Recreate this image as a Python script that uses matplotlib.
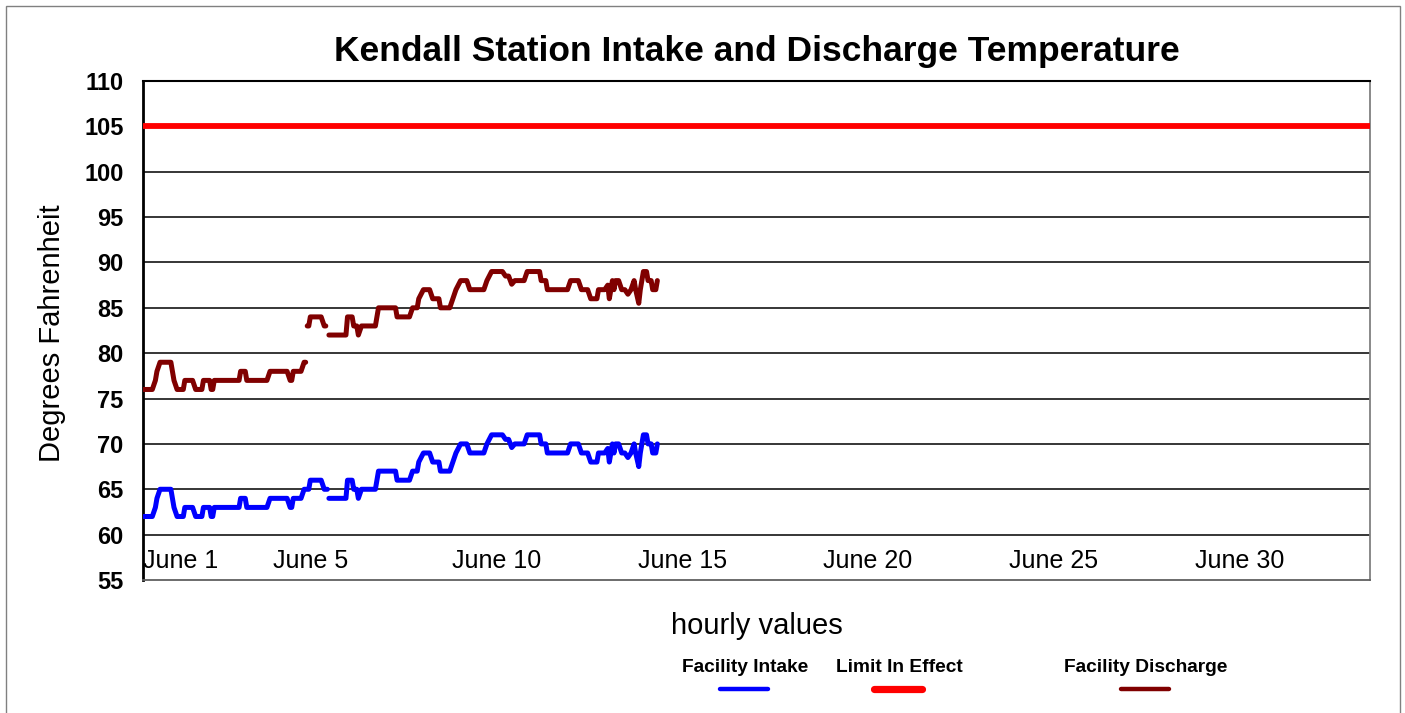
import numpy as np
import matplotlib
matplotlib.use('Agg')
import matplotlib.pyplot as plt
from matplotlib.lines import Line2D
from matplotlib.patches import Rectangle

plt.rcParams['font.family'] = ['Liberation Sans', 'DejaVu Sans']

# hours since June 1 00:00, readings in deg F (nan = gap in record)
intake_hours = [0, 6, 8, 9, 11, 18, 20, 22, 26, 27, 32, 34, 38, 39, 43, 44, 45, 46, 62, 63, 66, 67,
                80, 82, 93, 95, 96, 97, 102, 104, 107, 108, 115, 117, 119,
                119.5,
                120, 131, 132, 135, 136, 138, 139, 141, 150, 152, 163, 164, 172, 174, 177, 178, 181,
                185, 187, 191, 192, 198, 200, 202, 205, 209, 211, 220, 222, 225, 232, 234, 236, 238,
                240, 246, 248, 256, 257, 260, 261, 274, 276, 281, 283, 287, 289, 293, 294, 298, 300,
                301, 303, 304, 305, 307, 309, 311, 313, 315, 317, 318, 320, 321, 323, 325, 326, 328,
                329, 331, 332]
intake_temp = [62, 62, 63, 64, 65, 65, 63, 62, 62, 63, 63, 62, 62, 63, 63, 62, 62, 63, 63, 64, 64, 63,
               63, 64, 64, 63, 63, 64, 64, 65, 65, 66, 66, 65, 65,
               np.nan,
               64, 64, 66, 66, 65, 65, 64, 65, 65, 67, 67, 66, 66, 67, 67, 68, 69,
               69, 68, 68, 67, 67, 68, 69, 70, 70, 69, 69, 70, 71, 71, 70.5, 70.5, 69.6,
               70, 70, 71, 71, 70, 70, 69, 69, 70, 70, 69, 69, 68, 68, 69, 69, 69.5,
               68, 70, 69, 70, 70, 69, 69, 68.5, 69, 70, 69, 67.5, 69, 71, 71, 70, 70,
               69, 69, 70]

discharge_hours = [0, 6, 8, 9, 11, 18, 20, 22, 26, 27, 32, 34, 38, 39, 43, 44, 45, 46, 62, 63, 66, 67,
                   80, 82, 93, 95, 96, 97, 102, 104, 105,
                   105.5,
                   106, 107, 108, 115, 117, 118,
                   119,
                   120, 131, 132, 135, 136, 138, 139, 141, 150, 152, 163, 164, 172, 174, 177, 178, 181,
                   185, 187, 191, 192, 198, 200, 202, 205, 209, 211, 220, 222, 225, 232, 234, 236, 238,
                   240, 246, 248, 256, 257, 260, 261, 274, 276, 281, 283, 287, 289, 293, 294, 298, 300,
                   301, 303, 304, 305, 307, 309, 311, 313, 315, 317, 318, 320, 321, 323, 325, 326, 328,
                   329, 331, 332]
discharge_temp = [76, 76, 77, 78, 79, 79, 77, 76, 76, 77, 77, 76, 76, 77, 77, 76, 76, 77, 77, 78, 78, 77,
                  77, 78, 78, 77, 77, 78, 78, 79, 79,
                  np.nan,
                  83, 83, 84, 84, 83, 83,
                  np.nan,
                  82, 82, 84, 84, 83, 83, 82, 83, 83, 85, 85, 84, 84, 85, 85, 86, 87,
                  87, 86, 86, 85, 85, 86, 87, 88, 88, 87, 87, 88, 89, 89, 88.5, 88.5, 87.6,
                  88, 88, 89, 89, 88, 88, 87, 87, 88, 88, 87, 87, 86, 86, 87, 87, 87.5,
                  86, 88, 87, 88, 88, 87, 87, 86.5, 87, 88, 87, 85.5, 87, 89, 89, 88, 88,
                  87, 87, 88]

limit_value = 105
day_labels = [1, 5, 10, 15, 20, 25, 30]
y_ticks = [55, 60, 65, 70, 75, 80, 85, 90, 95, 100, 105, 110]

fig = plt.figure(figsize=(14.05, 7.13), dpi=100)
fig.patch.set_facecolor('white')
fig.patches.append(Rectangle((6 / 1405, -0.1), 1394 / 1405, 1.1 - 6 / 713, transform=fig.transFigure,
                             fill=False, edgecolor='#808080', linewidth=1))

ax = fig.add_axes([143 / 1405, 1 - 580 / 713, 1227 / 1405, 499 / 713])
ax.set_xlim(0, 792)
ax.set_ylim(55, 110)

for v in y_ticks[1:-1]:
    ax.axhline(v, color='black', linewidth=1.1, zorder=1)

ax.axhline(limit_value, color='#ff0000', linewidth=4.2, zorder=3)
ax.plot(intake_hours, intake_temp, color='#0000ff', linewidth=3.6,
        solid_joinstyle='round', solid_capstyle='round', zorder=4)
ax.plot(discharge_hours, discharge_temp, color='#800000', linewidth=3.6,
        solid_joinstyle='round', solid_capstyle='round', zorder=4)

ax.set_yticks(y_ticks)
ax.set_yticklabels([str(v) for v in y_ticks], fontsize=17, fontweight='bold')
ax.tick_params(axis='y', length=0, pad=14)
ax.set_xticks([])

for d in day_labels:
    if d == 1:
        ax.text(0, 57.1, 'June %d' % d, ha='left', va='center', fontsize=18)
    else:
        ax.text((d - 1) * 24 + 12, 57.1, 'June %d' % d, ha='center', va='center', fontsize=18)

ax.spines['left'].set_linewidth(2)
ax.spines['left'].set_color('black')
ax.spines['top'].set_linewidth(1.5)
ax.spines['top'].set_color('black')
ax.spines['bottom'].set_color('#606060')
ax.spines['bottom'].set_linewidth(1.3)
ax.spines['right'].set_color('#808080')
ax.spines['right'].set_linewidth(1.3)

fig.text(757 / 1405, 1 - 52 / 713, 'Kendall Station Intake and Discharge Temperature',
         ha='center', va='center', fontsize=25.5, fontweight='bold')
fig.text(52 / 1405, 1 - 333 / 713, 'Degrees Fahrenheit', rotation=90,
         ha='center', va='center', fontsize=21)
fig.text(757 / 1405, 1 - 626 / 713, 'hourly values', ha='center', va='center', fontsize=21)

# legend laid out by hand like the original
legend_items = [('Facility Intake', 745, 720, 768, '#0000ff', 3.2),
                ('Limit In Effect', 899, 874, 922, '#ff0000', 5.2),
                ('Facility Discharge', 1146, 1121, 1169, '#800000', 3.2)]
for label, cx, x0, x1, color, lw in legend_items:
    fig.text(cx / 1405, 1 - 667 / 713, label, ha='center', va='center',
             fontsize=13.8, fontweight='bold')
    fig.lines.append(Line2D([x0 / 1405, x1 / 1405], [1 - 689 / 713, 1 - 689 / 713],
                            transform=fig.transFigure, color=color, linewidth=lw,
                            solid_capstyle='round'))

fig.savefig('out.png', dpi=100)
